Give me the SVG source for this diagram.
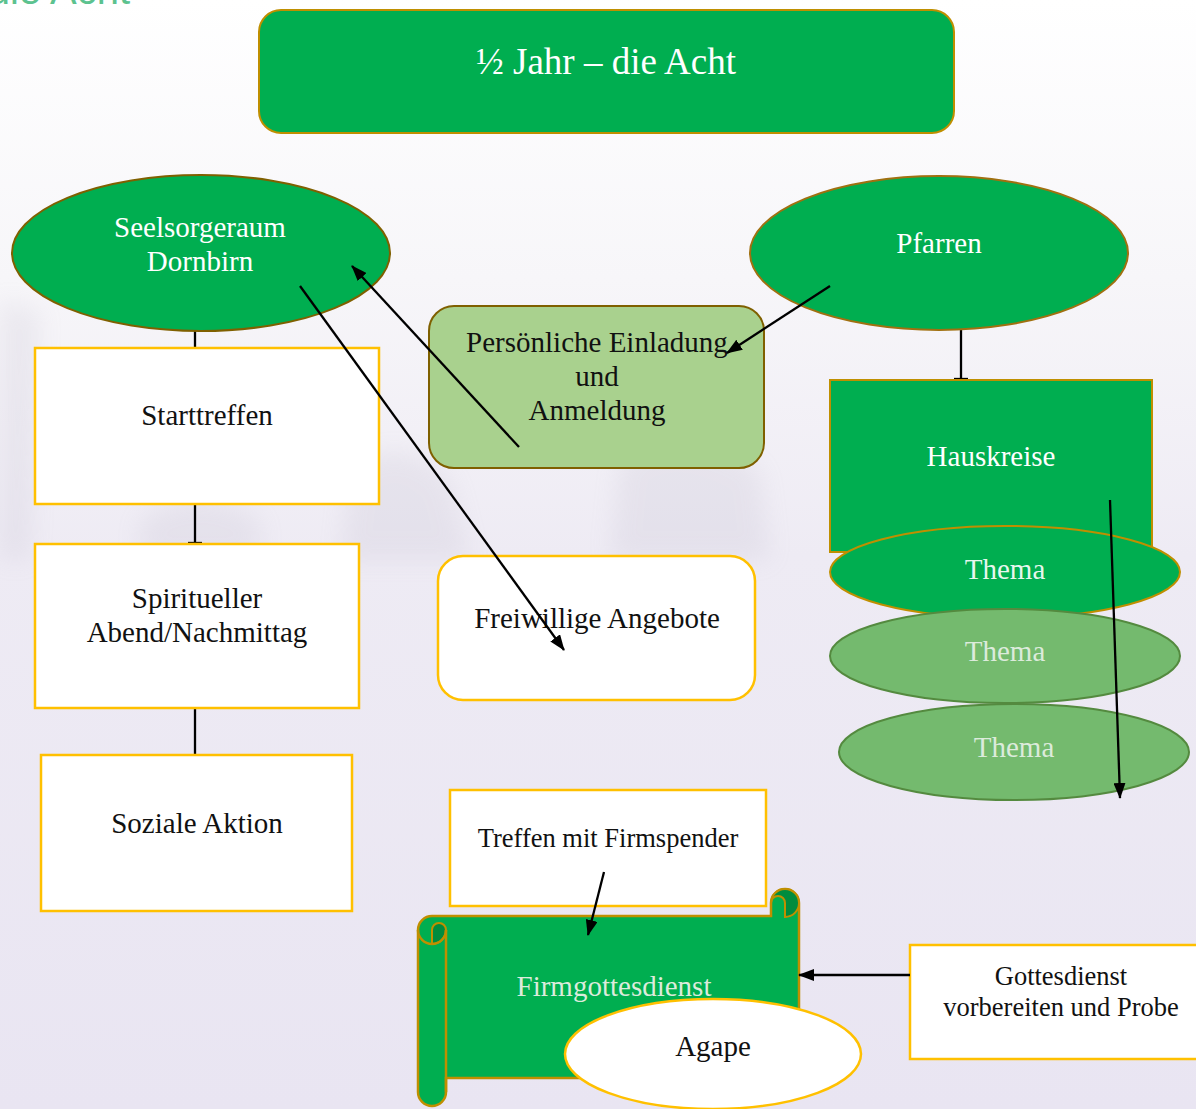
<svg xmlns="http://www.w3.org/2000/svg" width="1196" height="1109" viewBox="0 0 1196 1109">
<defs>
<linearGradient id="bg" x1="0" y1="0" x2="0" y2="1">
<stop offset="0" stop-color="#ffffff"/>
<stop offset="0.25" stop-color="#f7f6f9"/>
<stop offset="0.5" stop-color="#eeebf4"/>
<stop offset="1" stop-color="#e9e5f2"/>
</linearGradient>
<filter id="blur" x="-20%" y="-20%" width="140%" height="140%"><feGaussianBlur stdDeviation="12"/></filter>
<marker id="ah" viewBox="0 0 16 12" refX="15" refY="6" markerWidth="16" markerHeight="12" markerUnits="userSpaceOnUse" orient="auto">
<path d="M0,0 L16,6 L0,12 Z" fill="#000"/>
</marker>
</defs>
<style>
.t{font-family:"Liberation Serif","Times New Roman",serif;text-anchor:middle}
.big{font-size:29px}
.sm{font-size:26.5px}
.w{fill:#ffffff}
.k{fill:#111111}
.lt{fill:#dcebdc}
.green{fill:#00ae50;stroke:#bf8f00;stroke-width:2}
.wbox{fill:#ffffff;stroke:#ffc000;stroke-width:2.5}
.light{fill:#74ba6e;stroke:#548a3f;stroke-width:2}
.ln{stroke:#000;stroke-width:2.3;fill:none}
</style>
<rect x="0" y="0" width="1196" height="1109" fill="url(#bg)"/>
<g opacity="0.14" filter="url(#blur)" fill="#a9a3b8">
<path d="M0,300 L40,310 L30,560 L0,560 Z"/>
<path d="M350,470 Q400,430 450,480 L470,560 L340,560 Z"/>
<path d="M620,460 Q680,420 760,470 L770,560 L610,560 Z"/>
<path d="M140,520 Q200,480 260,520 L260,560 L140,560 Z"/>
</g>
<text x="130" y="4" font-family="Liberation Sans, Arial, sans-serif" font-size="40" fill="#5cc28f" text-anchor="end">½ Jahr – die Acht</text>

<g id="connectors">
<line class="ln" x1="195" y1="292" x2="195" y2="348"/>
<line class="ln" x1="195" y1="465" x2="195" y2="543"/>
<line class="ln" x1="188" y1="543" x2="202" y2="543"/>
<line class="ln" x1="195" y1="683" x2="195" y2="755"/>
<line class="ln" x1="961" y1="278" x2="961" y2="379"/>
<line class="ln" x1="954" y1="379" x2="968" y2="379"/>
</g>

<g id="title"><rect x="259" y="10" width="695" height="123" rx="22" class="green"/>
<text class="t w" x="606" y="74" font-size="37">½ Jahr – die Acht</text></g>

<g id="seelsorgeraum"><ellipse cx="201" cy="253" rx="189" ry="78" fill="#00ae50" stroke="#7f6000" stroke-width="2"/>
<text class="t big w" x="200" y="237">Seelsorgeraum</text><text class="t big w" x="200" y="271">Dornbirn</text></g>

<g id="pfarren"><ellipse cx="939" cy="253" rx="189" ry="77" fill="#00ae50" stroke="#a07010" stroke-width="2"/>
<text class="t big w" x="939" y="253">Pfarren</text></g>

<g id="einladung"><rect x="429" y="306" width="335" height="162" rx="25" fill="#a9d18e" stroke="#7f6000" stroke-width="2"/>
<text class="t big k" x="597" y="352">Persönliche Einladung</text><text class="t big k" x="597" y="386">und</text><text class="t big k" x="597" y="420">Anmeldung</text></g>

<g id="starttreffen"><rect x="35" y="348" width="344" height="156" class="wbox"/>
<text class="t big k" x="207" y="425">Starttreffen</text></g>

<g id="spiritueller"><rect x="35" y="544" width="324" height="164" class="wbox"/>
<text class="t big k" x="197" y="608">Spiritueller</text><text class="t big k" x="197" y="642">Abend/Nachmittag</text></g>

<g id="soziale"><rect x="41" y="755" width="311" height="156" class="wbox"/>
<text class="t big k" x="197" y="833">Soziale Aktion</text></g>

<g id="freiwillige"><rect x="438" y="556" width="317" height="144" rx="25" class="wbox"/>
<text class="t big k" x="597" y="628">Freiwillige Angebote</text></g>

<g id="hauskreise"><rect x="830" y="380" width="322" height="172" class="green"/>
<text class="t big w" x="991" y="466">Hauskreise</text></g>

<g id="thema1"><ellipse cx="1005" cy="572" rx="175" ry="46" class="green"/>
<text class="t big w" x="1005" y="579" fill-opacity="0.92">Thema</text></g>

<g id="thema2"><ellipse cx="1005" cy="656" rx="175" ry="47" class="light"/>
<text class="t big lt" x="1005" y="661">Thema</text></g>

<g id="thema3"><ellipse cx="1014" cy="752" rx="175" ry="48" class="light"/>
<text class="t big lt" x="1014" y="757">Thema</text></g>

<g id="treffen"><rect x="450" y="790" width="316" height="116" class="wbox"/>
<text class="t sm k" x="608" y="847">Treffen mit Firmspender</text></g>

<g id="firmgottesdienst">
<path d="M418,930 A14,14 0 0 1 432,916 H771 V903 A14,14 0 0 1 799,903 V1078 H446 V1092 A14,14 0 0 1 418,1092 Z" fill="#00ae50" stroke="#bf8f00" stroke-width="2.5"/>
<path d="M432,944 V930 A7,7 0 0 1 446,930 A14,14 0 0 1 432,944 Z" fill="#008c3e" stroke="#bf8f00" stroke-width="2"/>
<path d="M446,930 V1092" stroke="#bf8f00" stroke-width="2.5" fill="none"/>
<path d="M418,930 A14,14 0 0 0 446,930" stroke="#bf8f00" stroke-width="2.5" fill="none"/>
<path d="M785,917 V903 A7,7 0 0 0 771,903 A14,14 0 0 1 785,889 A14,14 0 0 1 799,903 A14,14 0 0 1 785,917 Z" fill="#008c3e" stroke="#bf8f00" stroke-width="2"/>
<path d="M771,903 V916" stroke="#bf8f00" stroke-width="2" fill="none"/>
<text class="t big lt" x="614" y="996">Firmgottesdienst</text>
</g>

<g id="agape"><ellipse cx="713" cy="1054" rx="148" ry="55" class="wbox"/>
<text class="t big k" x="713" y="1056">Agape</text></g>

<g id="gottesdienst"><rect x="910" y="945" width="292" height="114" class="wbox"/>
<text class="t sm k" x="1061" y="985">Gottesdienst</text><text class="t sm k" x="1061" y="1016">vorbereiten und Probe</text></g>

<g id="arrows">
<line class="ln" x1="519" y1="447" x2="352" y2="266" marker-end="url(#ah)"/>
<line class="ln" x1="300" y1="286" x2="564" y2="650" marker-end="url(#ah)"/>
<line class="ln" x1="830" y1="286" x2="727" y2="353" marker-end="url(#ah)"/>
<line class="ln" x1="1110" y1="500" x2="1120" y2="798" marker-end="url(#ah)"/>
<line class="ln" x1="604" y1="872" x2="588" y2="935" marker-end="url(#ah)"/>
<line class="ln" x1="910" y1="975" x2="799" y2="975" marker-end="url(#ah)"/>
</g>
</svg>
